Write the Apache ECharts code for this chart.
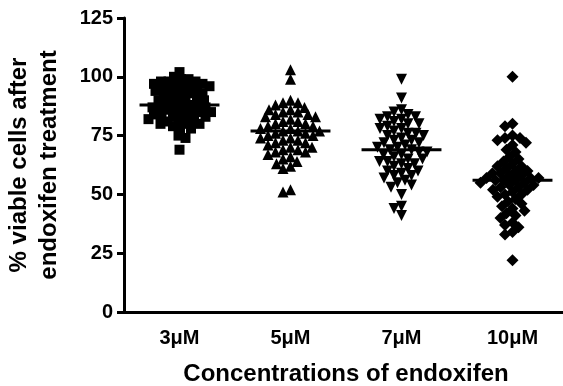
<!DOCTYPE html>
<html>
<head>
<meta charset="utf-8">
<script src="https://cdn.jsdelivr.net/npm/echarts@6/dist/echarts.min.js"></script>
<style>
  html, body { margin: 0; background: #fff; }
  #chart { width: 563px; height: 386px; }
</style>
</head>
<body>
<div id="chart"></div>
<script>
// categories and values
const categories = ['3μM', '5μM', '7μM', '10μM']
const dose3 = [102, 100, 99, 99, 98, 98, 98, 97, 97, 97, 96, 96, 96, 95, 95, 95, 94, 94, 93, 93, 93, 92, 92, 91, 91, 90, 90, 90, 89, 89, 88, 88, 88, 87, 87, 87, 86, 86, 86, 85, 85, 85, 84, 84, 84, 83, 83, 83, 82, 82, 81, 81, 80, 80, 80, 79, 78, 78, 75, 74, 69]
const dose5 = [103, 99, 90, 89, 89, 88, 87, 86, 86, 85, 85, 84, 84, 83, 83, 82, 81, 81, 80, 80, 79, 79, 78, 78, 77, 77, 77, 76, 76, 75, 75, 74, 74, 73, 73, 72, 72, 71, 70, 70, 69, 69, 68, 68, 67, 66, 65, 64, 63, 62, 61, 52, 51]
const dose7 = [99, 91, 86, 85, 84, 83, 83, 82, 82, 81, 80, 80, 79, 78, 78, 77, 76, 76, 75, 75, 74, 73, 73, 72, 72, 71, 70, 70, 69, 69, 68, 68, 67, 67, 66, 65, 65, 64, 64, 63, 63, 62, 61, 60, 60, 59, 58, 58, 57, 56, 55, 54, 53, 50, 45, 44, 41]
const dose10 = [100, 80, 79, 75, 74, 74, 73, 72, 71, 69, 68, 66, 65, 64, 63, 62, 62, 61, 60, 60, 59, 59, 58, 58, 57, 57, 57, 56, 56, 56, 55, 55, 54, 54, 53, 53, 52, 52, 51, 50, 50, 49, 48, 47, 46, 45, 44, 43, 42, 41, 40, 38, 37, 36, 34, 33, 22]
const groups = [dose3, dose5, dose7, dose10]

const yMin = 0
const yMax = 125
const yStep = 25

// layout helpers (pixels), only used to spread points sideways like a dot plot
const PX_PER_VALUE = 294 / 125
const PX_PER_CAT = 111
const SPREAD = [7.2, 7.8, 7.8, 7.6]

function median (arr) {
  const s = arr.slice().sort((a, b) => a - b)
  const m = Math.floor(s.length / 2)
  return s.length % 2 ? s[m] : (s[m - 1] + s[m]) / 2
}

// beeswarm: nearest free horizontal spot for each point
function swarm (values, gi) {
  const d = SPREAD[gi]
  const placed = []
  return values.map(v => {
    const y = v * PX_PER_VALUE
    let dx = 0
    for (let k = 0; k < 400; k++) {
      dx = (k % 2 === 0 ? 1 : -1) * Math.ceil(k / 2) * 0.5
      const hit = placed.some(p => {
        const ex = p[0] - dx
        const ey = p[1] - y
        return ex * ex + ey * ey < d * d
      })
      if (!hit) break
    }
    placed.push([dx, y])
    return [gi + dx / PX_PER_CAT, v]
  })
}

const symbols = ['rect', 'triangle', 'path://M0,0 L10,0 L5,9 Z', 'diamond']
const sizes = [10, 11, 11, 12]

const chart = echarts.init(document.getElementById('chart'))
const series = []
groups.forEach((vals, i) => {
  series.push({
    type: 'scatter',
    xAxisIndex: 1,
    symbol: symbols[i],
    symbolSize: sizes[i],
    itemStyle: { color: '#000', opacity: 1 },
    data: swarm(vals, i),
    silent: true
  })
  const med = median(vals)
  series.push({
    type: 'line',
    xAxisIndex: 1,
    symbol: 'none',
    lineStyle: { color: '#000', width: 3 },
    data: [[i - 0.36, med], [i + 0.36, med]],
    z: 5,
    silent: true
  })
})

const axisFont = { fontFamily: 'Liberation Sans, Arial, sans-serif', fontWeight: 'bold', color: '#000' }

const option = {
  animation: false,
  grid: { left: 124, right: -5, top: 18, bottom: 74, outerBoundsMode: 'none' },
  xAxis: [
    {
      type: 'category',
      data: categories,
      boundaryGap: true,
      axisLine: { onZero: false, lineStyle: { color: '#000', width: 3 } },
      axisTick: { alignWithLabel: true, length: 7, lineStyle: { color: '#000', width: 3 } },
      axisLabel: Object.assign({ fontSize: 20, margin: 16 }, axisFont),
      name: 'Concentrations of endoxifen',
      nameLocation: 'middle',
      nameGap: 50,
      nameTextStyle: Object.assign({ fontSize: 24 }, axisFont)
    },
    {
      type: 'value',
      min: -0.5,
      max: 3.5,
      show: false
    }
  ],
  yAxis: {
    type: 'value',
    min: yMin,
    max: yMax,
    interval: yStep,
    axisLine: { show: true, onZero: false, lineStyle: { color: '#000', width: 3 } },
    axisTick: { show: true, length: 7, lineStyle: { color: '#000', width: 3 } },
    splitLine: { show: false },
    axisLabel: Object.assign({ fontSize: 20, margin: 11 }, axisFont),
    name: '% viable cells after\nendoxifen treatment',
    nameLocation: 'middle',
    nameGap: 60,
    nameTextStyle: Object.assign({ fontSize: 24, lineHeight: 30 }, axisFont)
  },
  series: series
}
chart.setOption(option)
</script>
</body>
</html>
